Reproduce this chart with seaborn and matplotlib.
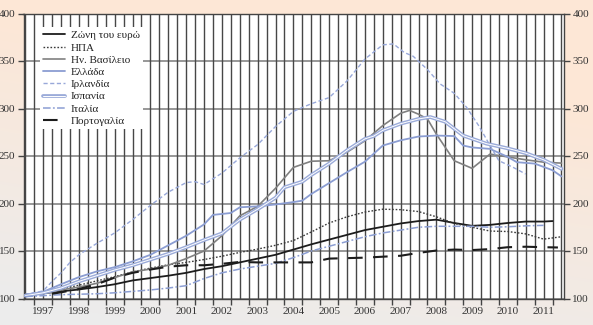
import numpy as np
import pandas as pd
import matplotlib
matplotlib.use("Agg")
import matplotlib.pyplot as plt
import matplotlib.patheffects as pe
from matplotlib.ticker import FixedLocator, NullFormatter
import seaborn as sns

# House price indices (1997 = 100), sampled at decimal years
euro_t = [1997.0, 1997.5, 1998.0, 1998.5, 1999.0, 1999.5, 2000.0, 2000.5, 2001.0, 2001.5,
          2002.0, 2002.5, 2003.0, 2003.5, 2004.0, 2004.5, 2005.0, 2005.5, 2006.0, 2006.5,
          2007.0, 2007.5, 2008.0, 2008.5, 2009.0, 2009.5, 2010.0, 2010.5, 2011.0, 2011.5, 2011.75]
euro_v = [104, 105.5, 107.5, 109.5, 112, 115, 119, 121.5, 124, 127,
          131, 134, 138, 142, 146, 151.5, 157, 162, 167, 172,
          175.5, 179, 181.5, 183, 179.5, 176.5, 177.5, 179.5, 181, 181, 181.5]

usa_t = [1997.0, 1997.5, 1998.0, 1998.5, 1999.0, 1999.5, 2000.0, 2000.5, 2001.0, 2001.5,
         2002.0, 2002.5, 2003.0, 2003.5, 2004.0, 2004.5, 2005.0, 2005.5, 2006.0, 2006.5,
         2007.0, 2007.5, 2008.0, 2008.5, 2009.0, 2009.5, 2010.0, 2010.5, 2011.0, 2011.5, 2012.0]
usa_v = [104, 106.5, 110, 114, 118.5, 123, 128, 132, 135.5, 138,
         141, 144.5, 148.5, 152, 156, 161, 170, 179.5, 186, 191,
         194, 193.5, 191.5, 186, 179, 175, 171, 170.5, 168, 162.5, 165]

uk_t = [1997.0, 1997.5, 1998.0, 1998.5, 1999.0, 1999.5, 2000.0, 2000.5, 2001.0, 2001.5,
        2002.0, 2002.5, 2003.0, 2003.5, 2004.0, 2004.5, 2005.0, 2005.5, 2006.0, 2006.5,
        2007.0, 2007.5, 2007.75, 2008.0, 2008.25, 2008.5, 2009.0, 2009.5, 2010.0, 2010.5,
        2011.0, 2011.5, 2012.0]
uk_v = [104, 105, 109, 112, 116, 122, 128, 131, 135, 142,
        150, 166, 187, 197, 216, 238, 244.5, 245, 254, 266,
        282, 295, 298, 294, 289, 273, 245, 237, 252, 249,
        246, 243.5, 242.5]

greece_t = [1997.0, 1997.5, 1998.0, 1998.5, 1999.0, 1999.5, 2000.0, 2000.5, 2001.0, 2001.5,
            2002.0, 2002.25, 2002.75, 2003.0, 2003.5, 2004.0, 2004.5, 2004.75, 2005.0, 2005.5,
            2006.0, 2006.5, 2007.0, 2007.5, 2008.0, 2008.5, 2009.0, 2009.25, 2009.5, 2010.0,
            2010.5, 2010.75, 2011.25, 2011.75, 2012.0]
greece_v = [104, 107, 115, 122.5, 128.5, 133, 139, 146, 156, 166,
            178, 188, 190, 196, 197, 199, 201.5, 203, 210, 221.5,
            233, 244, 261, 266.5, 270.5, 271.5, 271, 261, 259, 257.5,
            249, 243.5, 242, 235, 228.5]

ireland_t = [1997.0, 1997.5, 1997.75, 1998.0, 1998.25, 1998.5, 1999.0, 1999.5, 2000.0, 2000.5,
             2001.0, 2001.5, 2001.75, 2002.0, 2002.5, 2003.0, 2003.5, 2004.0, 2004.5, 2005.0,
             2005.5, 2006.0, 2006.5, 2007.0, 2007.3, 2007.6, 2007.85, 2008.25, 2008.6, 2009.0,
             2009.35, 2009.7, 2010.0, 2010.25, 2010.65, 2011.0]
ireland_v = [104, 108, 118, 127, 138, 146, 158, 169, 183, 198,
             212, 222, 223, 220, 232, 248, 262, 281, 297, 305,
             311.5, 329, 352, 367, 368, 359, 355, 341, 326, 316,
             301, 281, 261, 245, 238, 231]

spain_t = [1997.0, 1997.5, 1998.0, 1998.5, 1999.0, 1999.5, 2000.0, 2000.5, 2001.0, 2001.5,
           2002.0, 2002.5, 2003.0, 2003.5, 2004.0, 2004.25, 2004.75, 2005.0, 2005.5, 2006.0,
           2006.5, 2006.75, 2007.0, 2007.5, 2008.0, 2008.33, 2008.75, 2009.25, 2009.9, 2010.5,
           2011.0, 2011.5, 2012.0]
spain_v = [103, 106, 111, 118, 124, 130, 135, 141, 147, 154,
           161.5, 168.5, 183, 194, 206, 217, 223, 230, 242, 256,
           268, 271, 277, 284, 289, 291, 286, 271.5, 263, 258,
           253, 246, 236.5]

italy_t = [1997.0, 1997.5, 1998.0, 1998.5, 1999.0, 1999.5, 2000.0, 2000.5, 2001.0, 2001.5,
           2002.0, 2002.5, 2003.0, 2003.5, 2004.0, 2004.5, 2005.0, 2005.5, 2006.0, 2006.5,
           2007.0, 2007.5, 2008.0, 2008.5, 2009.0, 2009.5, 2010.0, 2010.5, 2011.0, 2011.5]
italy_v = [102, 103, 104, 104.5, 105, 106, 107.5, 109, 111, 113.5,
           121, 127, 131, 134, 137, 143, 150, 155, 160, 165,
           169, 172, 175, 176, 176, 176, 175, 175.5, 176.5, 177]

portugal_t = [1997.75, 1998.0, 1998.5, 1999.0, 1999.5, 2000.0, 2000.5, 2001.0, 2001.5, 2002.0,
              2002.5, 2003.0, 2003.5, 2004.0, 2004.5, 2005.0, 2005.5, 2006.0, 2006.5, 2007.0,
              2007.5, 2008.0, 2008.5, 2009.0, 2009.5, 2010.0, 2010.5, 2011.0, 2011.5, 2011.9]
portugal_v = [105, 106.5, 110, 115, 122, 127, 130.5, 133.5, 135, 135,
              136.5, 138.5, 138, 138, 138, 138, 142, 142.5, 143, 144,
              145, 148, 150.5, 151.5, 151, 152, 154, 154.5, 154, 153.7]

labels = ["Ζώνη του ευρώ", "ΗΠΑ", "Ην. Βασίλειο", "Ελλάδα",
          "Ιρλανδία", "Ισπανία", "Ιταλία", "Πορτογαλία"]
year_labels = [str(y) for y in range(1997, 2012)]

series = [
    (euro_t, euro_v), (usa_t, usa_v), (uk_t, uk_v), (greece_t, greece_v),
    (ireland_t, ireland_v), (spain_t, spain_v), (italy_t, italy_v), (portugal_t, portugal_v),
]
frames = [pd.DataFrame({"year": t, "index": v, "area": name})
          for name, (t, v) in zip(labels, series)]
data = pd.concat(frames, ignore_index=True)

sns.set_theme(style="white")
plt.rcParams["font.family"] = ["Liberation Serif", "DejaVu Serif"]

styles = {
    "Ζώνη του ευρώ": dict(color="#1c1c1c", lw=1.3),
    "ΗΠΑ": dict(color="#3a3a3a", lw=1.0, dashes=(1.2, 1.3)),
    "Ην. Βασίλειο": dict(color="#808080", lw=1.2),
    "Ελλάδα": dict(color="#8b9dd2", lw=1.3),
    "Ιρλανδία": dict(color="#98a8d9", lw=1.0, dashes=(3, 1.8)),
    "Ισπανία": dict(color="white", lw=0.7,
                    path_effects=[pe.Stroke(linewidth=2.7, foreground="#9babd9"), pe.Normal()]),
    "Ιταλία": dict(color="#8c9ed3", lw=1.1, dashes=(5, 1.5, 1.2, 1.5)),
    "Πορτογαλία": dict(color="#1c1c1c", lw=1.5, dashes=(7, 5)),
}

W, H = 593, 325
fig = plt.figure(figsize=(W / 100, H / 100), dpi=100)

# soft peach-to-grey backdrop
bg = fig.add_axes([0, 0, 1, 1], zorder=-10)
yy, xx = np.mgrid[0:H, 0:W]
s = np.clip(1.05 - (yy / H) * 1.15 + (xx / W) * 0.35, 0, 1)[..., None]
peach = np.array([253, 231, 214]) / 255
grey = np.array([236, 236, 236]) / 255
bg.imshow(grey + (peach - grey) * s, aspect="auto", extent=(0, 1, 0, 1))
bg.axis("off")

ax = fig.add_axes([23.5 / W, 1 - 298.5 / H, 540.5 / W, 285 / H])
ax.set_facecolor("white")

for name in labels:
    sub = data[data["area"] == name]
    sns.lineplot(data=sub, x="year", y="index", ax=ax, estimator=None,
                 label=name, zorder=3, **styles[name])

ax.set_xlim(1996.95, 2012.07)
ax.set_ylim(100, 400)

# quarterly vertical rules and horizontal rules
quarters = np.arange(1997.0, 2012.01, 0.25)
ax.vlines(quarters, 100, 400, colors="#474747", lw=1.0, zorder=1)
ax.set_yticks(np.arange(100, 401, 50))
ax.grid(axis="y", color="#7a7a7a", lw=1.1, zorder=1)
ax.grid(axis="x", visible=False)
ax.set_axisbelow(True)

ax.xaxis.set_major_locator(FixedLocator(np.arange(1997.5, 2012, 1.0)))
ax.set_xticklabels(year_labels)
ax.xaxis.set_minor_locator(FixedLocator(np.sort(np.concatenate(
    [np.arange(1997.25, 2012, 1.0), np.arange(1997.75, 2012, 1.0)]))))
ax.xaxis.set_minor_formatter(NullFormatter())
ax.tick_params(axis="x", which="major", length=0, pad=6, labelsize=8, labelcolor="#333333")
ax.tick_params(axis="x", which="minor", length=4, width=1.0, color="#444444", direction="out",
               bottom=True)
ax.tick_params(axis="y", which="major", length=4, width=1.0, color="#444444", direction="out",
               left=True, right=True, labelleft=True, labelright=True,
               labelsize=8, labelcolor="#333333", pad=2)

for side in ["left", "right", "top", "bottom"]:
    ax.spines[side].set_color("#444444")
    ax.spines[side].set_linewidth(1.0)

ax.set_xlabel("")
ax.set_ylabel("")

leg = ax.legend(loc="upper left", bbox_to_anchor=(0.03, 0.952), fontsize=8,
                frameon=True, fancybox=False, framealpha=1, facecolor="white",
                edgecolor="none", handlelength=2.0, handletextpad=0.5,
                labelspacing=0.22, borderpad=0.3, borderaxespad=0)
leg.set_zorder(5)
for txt in leg.get_texts():
    txt.set_color("#222222")

fig.savefig("out.png", dpi=100)
